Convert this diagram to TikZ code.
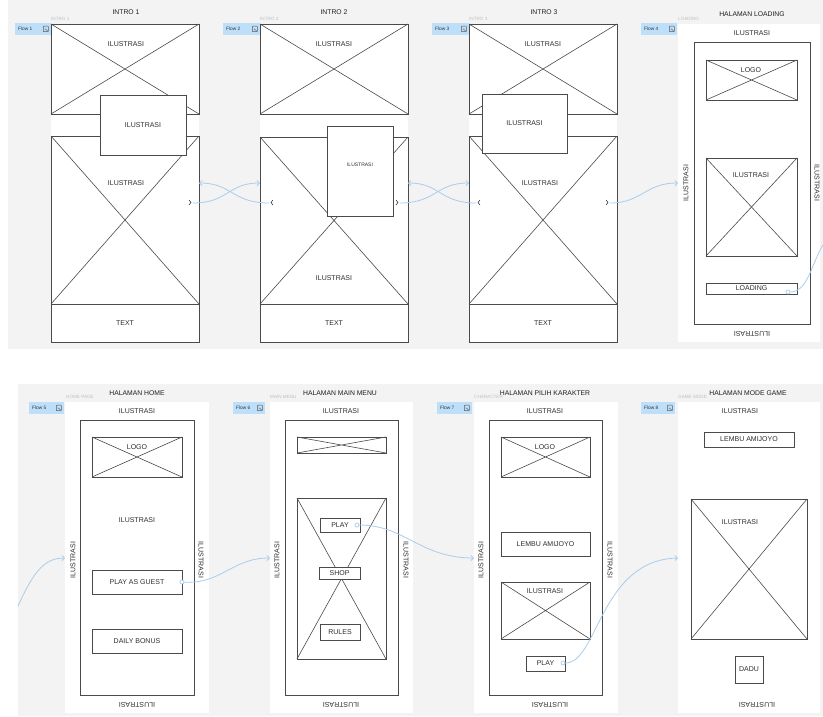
\documentclass[tikz,border=0pt]{standalone}
\usepackage{fontspec}
\setmainfont{Liberation Sans}
\usetikzlibrary{arrows.meta,calc}
\definecolor{bandgray}{HTML}{F3F3F3}
\definecolor{wline}{HTML}{4A4A4A}
\definecolor{flowblue}{HTML}{A9CDEC}
\definecolor{badgeblue}{HTML}{BDDFFA}
\newcommand\mkbox[6][]{\node[wf,#1,minimum width=\fpeval{#4-#2}pt,minimum height=\fpeval{#5-#3}pt] (#6) at (#2,#3) {};}
\newcommand\wfcross[1]{\draw[wline,line width=0.6pt] (#1.north west) -- (#1.south east) (#1.north east) -- (#1.south west);}
\begin{document}
\begin{tikzpicture}[x=1pt,y=-1pt,
  wf/.style={draw=wline,line width=0.6pt,fill=white,inner sep=0pt,outer sep=0pt,anchor=north west},
  bg/.style={fill=white,draw=none,inner sep=0pt,outer sep=0pt,anchor=north west},
  lbl/.style={font=\fontsize{7}{8}\selectfont,text=black!82,inner sep=0pt},
  slbl/.style={font=\fontsize{5}{6}\selectfont,text=black!82,inner sep=0pt},
  ttl/.style={font=\fontsize{6.8}{8}\selectfont,text=black!88,inner sep=0pt},
  tag/.style={font=\fontsize{4.6}{5}\selectfont,text=black!25,inner sep=0pt,anchor=west},
  flowbadge/.style={fill=badgeblue,draw=none,inner sep=0pt,anchor=north west},
  ftxt/.style={font=\fontsize{4.8}{5}\selectfont,text=black!80,inner sep=0pt,anchor=west},
  conn/.style={draw=flowblue,line width=0.8pt,-{Straight Barb[length=2.5pt,width=5pt]}},
  startdot/.style={draw=flowblue,line width=0.7pt,fill=white,circle,inner sep=0pt,minimum size=4pt},
  hot/.style={draw=black!75,line width=0.6pt}
]
\useasboundingbox (0,0) rectangle (823,716);
\fill[white] (0,0) rectangle (823,716);
\fill[bandgray] (8,0) rectangle (823,349);
\fill[bandgray] (18,384) rectangle (823,716);

% ================= TOP ROW =================
\node[ttl] (t1) at (126,12) {INTRO 1};
\node[ttl] (t2) at (334,12) {INTRO 2};
\node[ttl] (t3) at (544,12) {INTRO 3};
\node[ttl] (t4) at (752,14) {HALAMAN LOADING};
\node[tag] (g1) at (51,19) {INTRO 1};
\node[tag] (g2) at (260,19) {INTRO 2};
\node[tag] (g3) at (469,19) {INTRO 3};
\node[tag] (g4) at (678,19) {LOADING};

% flow badges
\foreach \n/\a/\b/\yy/\lab in {f1/15/51/23/Flow 1,f2/223/260/23/Flow 2,f3/432/469/23/Flow 3,f4/641/677/23/Flow 4,
  f5/29/64/402/Flow 5,f6/233/265/402/Flow 6,f7/437/472/402/Flow 7,f8/641/675/402/Flow 8}{
  \node[flowbadge,minimum width=\fpeval{\b-\a}pt,minimum height=12pt] (\n) at (\a,\yy) {};
  \node[ftxt] at ($(\n.west)+(3,0)$) {\lab};
  \draw[black!65,line width=0.45pt,rounded corners=0.6pt] ($(\n.east)+(-8,-3)$) rectangle ($(\n.east)+(-3,2.5)$);
  \draw[black!65,line width=0.45pt] ($(\n.east)+(-6.5,-0.5)$) -- ($(\n.east)+(-4,1.5)$);
}

% ---- INTRO 1 ----
\mkbox[bg]{51}{24}{199}{342}{i1f}
\mkbox{51}{24}{199}{114}{i1top}
\wfcross{i1top}
\mkbox{51}{136}{199}{304}{i1low}
\wfcross{i1low}
\mkbox{51}{304}{199}{342}{i1txt}
\node[lbl] at (126,44) {ILUSTRASI};
\node[lbl] at (126,183) {ILUSTRASI};
\node[lbl] at (i1txt.center) {TEXT};
\mkbox{100}{95}{186}{155}{i1ov}
\node[lbl] at (i1ov.center) {ILUSTRASI};

% ---- INTRO 2 ----
\mkbox[bg]{260}{24}{408}{342}{i2f}
\mkbox{260}{24}{408}{114}{i2top}
\wfcross{i2top}
\mkbox{260}{137}{408}{304}{i2low}
\wfcross{i2low}
\mkbox{260}{304}{408}{342}{i2txt}
\node[lbl] at (334,44) {ILUSTRASI};
\node[lbl] at (334,278) {ILUSTRASI};
\node[lbl] at (i2txt.center) {TEXT};
\mkbox{327}{126}{393}{216}{i2ov}
\node[slbl] at (360,165) {ILUSTRASI};

% ---- INTRO 3 ----
\mkbox[bg]{469}{24}{617}{342}{i3f}
\mkbox{469}{24}{617}{114}{i3top}
\wfcross{i3top}
\mkbox{469}{136}{617}{304}{i3low}
\wfcross{i3low}
\mkbox{469}{304}{617}{342}{i3txt}
\node[lbl] at (543,44) {ILUSTRASI};
\node[lbl] at (540,183) {ILUSTRASI};
\node[lbl] at (i3txt.center) {TEXT};
\mkbox{482}{94}{567}{153}{i3ov}
\node[lbl] at (i3ov.center) {ILUSTRASI};

% ---- LOADING ----
\mkbox[bg]{678}{24}{820}{342}{lf}
\mkbox{694}{42}{810}{324}{lin}
\mkbox{706}{60}{797}{100}{llogo}
\wfcross{llogo}
\node[lbl] at (751,70) {LOGO};
\mkbox{706}{158}{797}{256}{lill}
\wfcross{lill}
\node[lbl] at (751,175) {ILUSTRASI};
\mkbox{706}{283}{797}{294}{lload}
\node[lbl] at (lload.center) {LOADING};
\node[lbl] at (752,33) {ILUSTRASI};
\node[lbl,rotate=90] at (686,183) {ILUSTRASI};
\node[lbl,rotate=-90] at (817,183) {ILUSTRASI};
\node[lbl,rotate=180] at (752,334) {ILUSTRASI};

% hotspots
\coordinate (h1) at (193,203);
\coordinate (h2) at (269,203);
\coordinate (h3) at (400,203);
\coordinate (h4) at (476,203);
\coordinate (h5) at (610,203);
\draw[hot] (189,200) -- (191,202.5) -- (189,205);
\draw[hot] (273,200) -- (271,202.5) -- (273,205);
\draw[hot] (396,200) -- (398,202.5) -- (396,205);
\draw[hot] (480,200) -- (478,202.5) -- (480,205);
\draw[hot] (606,200) -- (608,202.5) -- (606,205);

\coordinate (i2in) at (260,183);
\coordinate (i1in) at (199,183);
\coordinate (i3in) at (469,183);
\coordinate (i2back) at (408,183);
\coordinate (lin4) at (678,183);

\draw[conn] (h1) .. controls (228,203) and (228,183) .. (i2in);
\draw[conn] (h2) .. controls (232,203) and (232,183) .. (i1in);
\draw[conn] (h3) .. controls (436,203) and (436,183) .. (i3in);
\draw[conn] (h4) .. controls (440,203) and (440,183) .. (i2back);
\draw[conn] (h5) .. controls (642,203) and (645,183) .. (lin4);

\coordinate (lout) at (823,245);
\node[startdot] (ls) at (788,292) {};
\draw[draw=flowblue,line width=0.8pt] (ls) .. controls (808,292) and (812,262) .. (lout);

% ================= BOTTOM ROW =================
\node[ttl] (t5) at (137,393) {HALAMAN HOME};
\node[ttl] (t6) at (340,393) {HALAMAN MAIN MENU};
\node[ttl] (t7) at (545,393) {HALAMAN PILIH KARAKTER};
\node[ttl] (t8) at (748,393) {HALAMAN MODE GAME};
\node[tag] (g5) at (66,397) {HOME PAGE};
\node[tag] (g6) at (270,397) {MAIN MENU};
\node[tag] (g7) at (474,397) {CHARACTER};
\node[tag] (g8) at (678,397) {GAME MODE};

% ---- HOME ----
\mkbox[bg]{65}{402}{209}{713}{hf}
\mkbox{80}{420}{194}{695}{hin}
\mkbox{92}{437}{182}{477}{hlogo}
\wfcross{hlogo}
\node[lbl] at (137,447) {LOGO};
\node[lbl] at (137,520) {ILUSTRASI};
\mkbox{92}{570}{182}{594}{hplay}
\node[lbl] at (hplay.center) {PLAY AS GUEST};
\mkbox{92}{629}{182}{653}{hdaily}
\node[lbl] at (hdaily.center) {DAILY BONUS};
\node[lbl] at (137,411) {ILUSTRASI};
\node[lbl,rotate=90] at (73,560) {ILUSTRASI};
\node[lbl,rotate=-90] at (201,560) {ILUSTRASI};
\node[lbl,rotate=180] at (137,705) {ILUSTRASI};

% ---- MAIN MENU ----
\mkbox[bg]{270}{402}{413}{713}{mf}
\mkbox{285}{420}{398}{695}{min}
\mkbox{297}{437}{386}{453}{mtop}
\wfcross{mtop}
\mkbox{297}{498}{386}{659}{mbig}
\wfcross{mbig}
\mkbox{320}{518}{360}{532}{mplay}
\node[lbl] at (mplay.center) {PLAY};
\mkbox{319}{567}{360}{579}{mshop}
\node[lbl] at (mshop.center) {SHOP};
\mkbox{320}{624}{360}{640}{mrules}
\node[lbl] at (mrules.center) {RULES};
\node[lbl] at (341,411) {ILUSTRASI};
\node[lbl,rotate=90] at (277,560) {ILUSTRASI};
\node[lbl,rotate=-90] at (406,560) {ILUSTRASI};
\node[lbl,rotate=180] at (341,705) {ILUSTRASI};

% ---- PILIH KARAKTER ----
\mkbox[bg]{474}{402}{618}{713}{pf}
\mkbox{489}{420}{602}{695}{pin}
\mkbox{501}{437}{590}{477}{plogo}
\wfcross{plogo}
\node[lbl] at (545,447) {LOGO};
\mkbox{501}{532}{590}{556}{plembu}
\node[lbl] at (plembu.center) {LEMBU AMIJOYO};
\mkbox{501}{582}{590}{639}{pill}
\wfcross{pill}
\node[lbl] at (545,591) {ILUSTRASI};
\mkbox{526}{656}{565}{671}{pplay}
\node[lbl] at (pplay.center) {PLAY};
\node[lbl] at (545,411) {ILUSTRASI};
\node[lbl,rotate=90] at (481,560) {ILUSTRASI};
\node[lbl,rotate=-90] at (610,560) {ILUSTRASI};
\node[lbl,rotate=180] at (550,705) {ILUSTRASI};

% ---- MODE GAME ----
\mkbox[bg]{678}{402}{820}{713}{gf}
\node[lbl] at (740,411) {ILUSTRASI};
\mkbox{704}{432}{794}{447}{glembu}
\node[lbl] at (glembu.center) {LEMBU AMIJOYO};
\mkbox{691}{499}{807}{639}{gbig}
\wfcross{gbig}
\node[lbl] at (740,522) {ILUSTRASI};
\mkbox{735}{656}{763}{683}{gdadu}
\node[lbl] at (gdadu.center) {DADU};
\node[lbl,rotate=180] at (757,705) {ILUSTRASI};

% ---- bottom connectors ----
\coordinate (hin5) at (18,606);
\coordinate (hent) at (65,558);
\draw[conn] (hin5) .. controls (32,576) and (42,558) .. (hent);

\coordinate (ment) at (270,558);
\node[startdot] (s8) at (182,582) {};
\draw[conn] (s8) .. controls (222,584) and (232,558) .. (ment);

\coordinate (pent) at (474,558);
\node[startdot] (s9) at (357,525) {};
\draw[conn] (s9) .. controls (405,525) and (420,558) .. (pent);

\coordinate (gent) at (678,558);
\node[startdot] (s10) at (563,663) {};
\draw[conn] (s10) .. controls (598,663) and (600,560) .. (gent);
\end{tikzpicture}
\end{document}
